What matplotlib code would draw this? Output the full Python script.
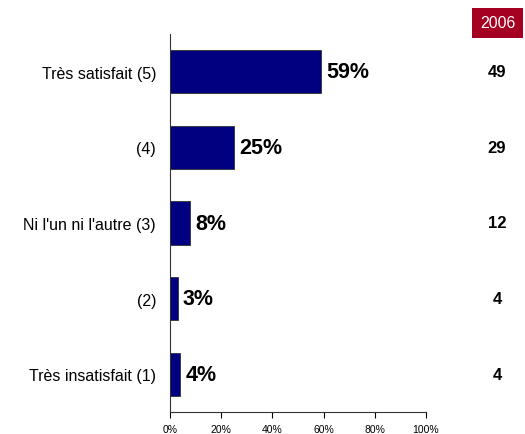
import matplotlib.pyplot as plt
import matplotlib.transforms as mtransforms
from matplotlib.patches import Rectangle
import numpy as np

categories = ["Très satisfait (5)", "(4)", "Ni l'un ni l'autre (3)", "(2)", "Très insatisfait (1)"]
values = [59, 25, 8, 3, 4]
prev_year = "2006"
prev_values = [49, 29, 12, 4, 4]

plt.rcParams['font.family'] = ['Liberation Sans', 'DejaVu Sans']

W, H = 525, 435
fig = plt.figure(figsize=(W / 100, H / 100), dpi=100)
ax = fig.add_axes([170 / W, 1 - 413 / H, 256 / W, 378 / H])

y = np.arange(len(categories))
ax.barh(y, values, height=0.57, color='#000080', edgecolor='#333333', linewidth=0.6)
ax.set_ylim(len(categories) - 0.5, -0.5)
ax.set_xlim(0, 100)

for yi, v in zip(y, values):
    ax.text(v + 2, yi, f"{v}%", va='center', ha='left', fontsize=15.5, fontweight='bold')

ax.set_yticks(y)
ax.set_yticklabels(categories, fontsize=11.5)
ax.tick_params(axis='y', length=0, pad=10)
ax.set_xticks(np.arange(0, 101, 20))
ax.set_xticklabels([f"{t}%" for t in range(0, 101, 20)], fontsize=7.5)
ax.tick_params(axis='x', length=4, width=0.8, pad=4.5)

for s in ['top', 'right']:
    ax.spines[s].set_visible(False)
for s in ['left', 'bottom']:
    ax.spines[s].set_linewidth(0.8)
    ax.spines[s].set_color('#333333')

# previous-year column
col = mtransforms.blended_transform_factory(fig.transFigure, ax.transData)
for yi, v in zip(y, prev_values):
    ax.text(497 / W, yi, str(v), transform=col, ha='center', va='center',
            fontsize=12, fontweight='bold')

fig.patches.append(Rectangle((472 / W, 1 - 39 / H), 51 / W, 30 / H,
                             transform=fig.transFigure, facecolor='#a50021',
                             edgecolor='none'))
fig.text(497.5 / W, 1 - 24 / H, prev_year, ha='center', va='center', color='white',
         fontsize=11.5)

fig.savefig('out.png', dpi=100)
